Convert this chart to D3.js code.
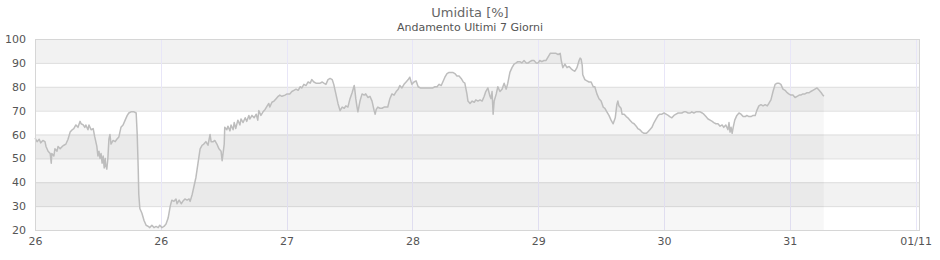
<!DOCTYPE html>
<html>
<head>
<meta charset="utf-8">
<script src="https://cdn.jsdelivr.net/npm/d3@7"></script>
<style>
  body { margin: 0; background: #fff; }
  text { font-family: "DejaVu Sans", sans-serif; }
</style>
</head>
<body>
<svg id="chart" width="940" height="260"></svg>
<script>
(function() {
  var svg, width, height, margin, x, y, plot, line, area, i;

  // hours since first tick, humidity %
  var ore = [
    0.0,0.4,0.8,1.1,1.5,1.9,2.1,2.5,2.9,3.1,3.2,3.6,3.8,4.2,4.4,4.8,5.2,5.5,5.9,6.3,
    6.7,7.1,7.4,7.8,8.2,8.6,8.8,9.2,9.5,9.7,10.1,10.3,10.7,11.1,11.4,11.8,12.0,12.2,12.4,12.6,
    12.8,13.0,13.2,13.4,13.5,13.7,13.9,14.1,14.3,14.5,14.9,15.3,15.6,16.0,16.4,16.8,17.2,17.6,17.9,18.3,
    18.9,19.3,19.5,19.7,19.8,20.0,20.4,20.8,21.2,21.6,21.9,22.3,22.7,23.1,23.5,23.8,24.2,24.6,25.0,
    25.4,25.8,26.1,26.5,26.9,27.1,27.5,27.9,28.2,28.6,29.0,29.4,29.6,30.0,30.3,30.7,31.1,31.5,31.9,32.2,
    32.6,33.0,33.4,33.6,34.0,34.3,34.7,35.1,35.5,35.7,36.1,36.2,36.6,36.8,37.2,37.4,37.8,38.0,38.3,38.7,
    39.1,39.3,39.7,40.1,40.4,40.8,41.0,41.4,41.8,42.2,42.5,42.7,43.1,43.5,43.9,44.3,44.6,44.8,45.2,45.6,
    46.0,46.4,46.7,47.1,47.7,48.1,48.6,49.0,49.4,49.8,50.2,
    50.6,50.9,51.3,51.7,52.1,52.5,52.8,53.2,53.6,54.0,54.4,54.8,55.1,55.5,55.9,56.3,56.7,57.0,57.4,57.8,
    58.2,58.6,59.0,59.3,59.7,60.1,60.5,60.9,61.0,61.2,61.4,61.6,62.0,62.4,62.8,63.1,63.5,63.9,64.3,64.7,
    64.9,65.1,65.4,65.8,66.2,66.6,67.0,67.3,67.7,68.1,68.5,68.9,69.3,69.6,70.0,70.4,70.8,71.2,71.5,71.9,
    72.3,72.7,73.1,73.5,74.4,75.4,
    75.9,76.3,76.7,77.1,77.5,77.8,78.2,78.6,79.0,79.4,79.7,80.1,80.5,80.9,81.3,81.7,82.0,82.4,82.6,83.0,
    83.4,83.8,84.1,84.5,84.9,85.3,85.7,86.0,86.4,86.8,87.0,87.2,87.4,87.6,88.0,88.3,88.7,89.1,89.5,89.9,
    90.2,90.6,91.0,91.4,91.8,92.1,92.5,92.9,93.3,93.7,94.1,94.4,94.8,95.2,95.6,96.0,96.3,96.7,97.1,97.5,
    97.9,98.3,98.6,99.0,99.4,99.8,
    100.2,100.4,100.7,101.1,101.5,101.9,102.3,102.6,103.0,103.4,103.8,104.0,104.2,104.4,104.5,104.9,105.3,105.7,106.1,106.5,
    106.8,107.2,107.6,108.0,108.4,108.7,109.1,109.5,109.9,110.3,110.7,111.0,111.2,111.4,111.8,112.0,112.4,112.8,113.1,113.5,
    113.9,114.3,114.7,115.0,115.4,115.8,116.2,116.6,116.9,117.3,117.7,118.1,118.5,118.9,119.2,119.6,120.0,120.4,120.8,121.1,
    121.5,121.9,122.3,122.7,123.1,123.4,123.8,
    124.2,124.6,125.0,125.3,125.7,126.1,126.5,126.9,127.3,127.6,128.0,128.4,128.8,129.2,129.5,129.9,130.3,130.7,131.1,131.4,
    131.8,132.2,132.4,132.6,132.8,133.0,133.2,133.5,133.9,134.3,134.7,135.1,135.5,135.8,136.2,136.6,137.0,137.4,137.7,138.1,
    138.5,138.9,139.3,139.7,140.0,140.4,140.8,141.2,141.6,141.9,142.3,142.7,143.1,143.5,143.8,144.2,144.6,145.0,145.4,145.8,
    146.1,146.5,146.9,147.3,147.7,148.0,148.4,148.8,149.2,149.6,150.0,150.3,150.5
  ];

  var umidita = [
    58.5,57,58,56.5,57.5,57,55,53,52,48,52,51,54,53,55,54,55,55.5,56,58,
    61,62,62.5,64,63,65.5,64.5,64,63,64,62,64,62,62.5,59,55,51,53,50,52,
    48,51,46,50,47,45.5,50,58,60,56,57.5,57,58,59,63,64,66,68,69,69.5,
    69.5,69,60,45,35,29,27,24,22,21.5,21,22,21,21.5,21,22,21,21.5,22.5,
    25,30,32.5,32,33,31,32.5,31,32,33,32.5,33,32,35,38,42,48,54,55.5,56,
    57,55.5,60,57,57,57.5,56,54,53,49,56,63,62,63.5,61.5,64,62,65,62.5,66,
    64,66.5,65,67,65.5,68,66.5,68,67,68.5,66,70,68,69.5,70.5,72,73,71.5,73.5,74,
    75,76,76.5,76,76.5,77,77,78,78.5,79,78.5,
    80,79.5,81,80.5,82,81.5,83,82,81.5,81.5,81.5,82,81.5,81,83,83.5,83,81,77,73,
    70,71.5,71,72,71.5,75,77.5,80.5,79,75,72,69.5,74,77,76.5,77,75.5,76,74,70,
    68.5,70.5,71.5,71,71,71.5,71.5,71.5,75,77,76.5,78,79,80.5,79.5,81,82,83,84,81,
    82,82.5,80,79.5,79.5,79.5,
    79.5,80,80,81,80.5,82,84,85.5,86,86,86,85.5,84.5,84.5,83.5,82,81.5,77,74,73,
    74,73.5,74.5,74,74.5,74,76,78,79.5,76,75,78,68.5,74,77,80,78,79,81.5,79,
    81.5,86,88,89.5,90,90.5,90.5,90,91,90,90,90.5,91,91,90,90,91,90.5,91,91,
    92.5,94,94,94,94,93.5,
    94,91,88,89.5,88,88.5,87.5,87,86.5,88,91,92,91.5,89,85,83,82.5,82,82,80,
    80,77,75,74,71.5,71,69.5,68,66,64.5,67,72.5,74,72,71,68.5,68.5,67.5,67,66,
    65,64.5,63.5,62.5,62,61,60.5,60.5,61,62,63,65,66.5,68,68.5,68.5,69,68.5,68,67.5,
    67,68,68.5,69,69,69,69.5,
    69.5,69,69,69.5,69,69.5,69.5,69.5,69,68.5,67.5,66.5,66,65.5,65,64.5,64.5,63.5,64,63,
    64,62,65,61,63,60.5,63,66,68,69,68.5,67.5,67.5,68,67.5,67.5,68,68,70,72,
    72.5,72,72.5,72,73,74.5,78,81,81.5,81.5,81,79,78.5,77.5,77,76.5,76.5,75.5,76,76.5,
    76.5,77,77,77.5,77.5,78,78.5,79,79.5,78.5,77.5,76.5,76
  ];

  var tickOre = [0, 24, 48, 72, 96, 120, 144, 168];
  var tickEtichette = ["26", "26", "27", "28", "29", "30", "31", "01/11"];
  var tickY = [20, 30, 40, 50, 60, 70, 80, 90, 100];

  var dati = [];
  for (i = 0; i < ore.length; i++) {
    dati.push({ t: ore[i], v: umidita[i] });
  }

  svg = d3.select("#chart");
  width = +svg.attr("width");
  height = +svg.attr("height");
  margin = { top: 39, right: 20, bottom: 30, left: 35 };

  x = d3.scaleLinear().domain([0, 168.84]).range([margin.left, width - margin.right]);
  y = d3.scaleLinear().domain([20, 100]).range([height - margin.bottom, margin.top]);

  // titles
  svg.append("text").attr("x", 470).attr("y", 17).attr("text-anchor", "middle")
    .attr("font-size", 13).attr("fill", "#666").text("Umidita [%]");
  svg.append("text").attr("x", 470).attr("y", 31).attr("text-anchor", "middle")
    .attr("font-size", 11).attr("fill", "#555").text("Andamento Ultimi 7 Giorni");

  plot = svg.append("g");

  // alternating bands
  plot.selectAll("rect.band").data(tickY.slice(0, -1)).enter().append("rect")
    .attr("class", "band")
    .attr("x", x(0)).attr("width", x(168.84) - x(0))
    .attr("y", function(d) { return y(d + 10); })
    .attr("height", function(d) { return y(d) - y(d + 10); })
    .attr("fill", function(d, k) { return k % 2 === 1 ? "#f2f2f2" : "#ffffff"; });

  // horizontal grid
  plot.selectAll("line.hg").data(tickY).enter().append("line")
    .attr("x1", x(0)).attr("x2", x(168.84))
    .attr("y1", function(d) { return y(d) + 0.5; }).attr("y2", function(d) { return y(d) + 0.5; })
    .attr("stroke", "#dddddd");

  // vertical grid
  plot.selectAll("line.vg").data(tickOre.slice(1)).enter().append("line")
    .attr("x1", function(d) { return Math.round(x(d)) + 0.5; })
    .attr("x2", function(d) { return Math.round(x(d)) + 0.5; })
    .attr("y1", y(100)).attr("y2", y(20))
    .attr("stroke", "#e8e6f8");

  area = d3.area().x(function(d) { return x(d.t); }).y0(y(20)).y1(function(d) { return y(d.v); });
  line = d3.line().x(function(d) { return x(d.t); }).y(function(d) { return y(d.v); });

  plot.append("path").datum(dati).attr("d", area)
    .attr("fill", "#000").attr("fill-opacity", 0.03);
  plot.append("path").datum(dati).attr("d", line)
    .attr("fill", "none").attr("stroke", "#bdbdbd").attr("stroke-width", 1.5)
    .attr("stroke-linejoin", "round");

  // border
  plot.append("rect").attr("x", x(0) + 0.5).attr("y", y(100) + 0.5)
    .attr("width", x(168.84) - x(0) - 1).attr("height", y(20) - y(100))
    .attr("fill", "none").attr("stroke", "#d6d6d6");

  // axes
  var yAxis = d3.axisLeft(y).tickValues(tickY).tickSize(0).tickPadding(9);
  var gy = svg.append("g").attr("transform", "translate(" + margin.left + ",0)").call(yAxis);
  gy.select(".domain").remove();
  gy.selectAll("text").attr("font-size", 11).attr("fill", "#555").attr("font-family", "DejaVu Sans, sans-serif");

  var xAxis = d3.axisBottom(x).tickValues(tickOre).tickSize(0).tickPadding(7)
    .tickFormat(function(d, k) { return tickEtichette[k]; });
  var gx = svg.append("g").attr("transform", "translate(0," + y(20) + ")").call(xAxis);
  gx.select(".domain").remove();
  gx.selectAll("text").attr("font-size", 11).attr("fill", "#555").attr("font-family", "DejaVu Sans, sans-serif");
})();
</script>
</body>
</html>
